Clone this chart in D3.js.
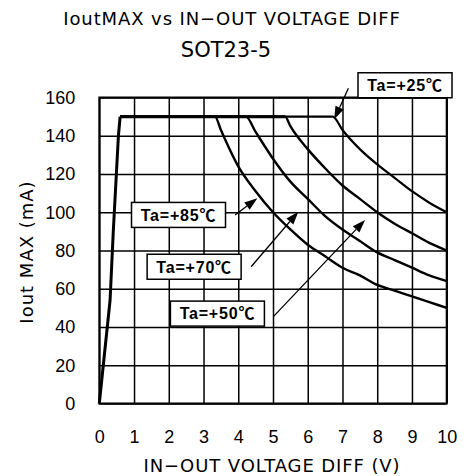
<!DOCTYPE html>
<html>
<head>
<meta charset="utf-8">
<script src="https://cdn.jsdelivr.net/npm/d3@7"></script>
<style>
  html, body { margin: 0; padding: 0; background: #fff; }
  svg { display: block; }
</style>
</head>
<body>
<svg id="chart" width="464" height="476"></svg>
<script>
// Rising start-up segment (shared by every temperature)
const riseV = [0, 0.31, 0.40, 0.55, 0.60];
const riseI = [0, 54, 89, 140, 150];

// Power-limited Iout MAX curves per ambient temperature (V, mA)
const v25 = [0.60, 5.35, 6.72, 7.0, 7.5, 8.0, 8.5, 9.0, 9.5, 10.0];
const i25 = [150, 150, 150, 143, 133, 125, 118, 111, 105, 100];
const v50 = [0.60, 5.35, 5.5, 6.0, 6.5, 7.0, 7.5, 8.0, 8.5, 9.0, 9.5, 10.0];
const i50 = [150, 150, 145, 133, 123, 114, 107, 100, 94, 89, 84, 80];
const v70 = [0.60, 4.22, 4.5, 5.0, 5.5, 6.0, 6.5, 7.0, 7.5, 8.0, 8.5, 9.0, 9.5, 10.0];
const i70 = [150, 150, 142, 128, 116, 107, 98, 91, 85, 79, 75, 71, 67, 64];
const v85 = [0.60, 3.33, 3.5, 4.0, 4.5, 5.0, 5.5, 6.0, 6.5, 7.0, 7.5, 8.0, 8.5, 9.0, 9.5, 10.0];
const i85 = [150, 150, 143, 124, 111, 100, 91, 83, 77, 71, 67, 62, 59, 56, 53, 50];

// Axis ticks
const xTicks = [0, 1, 2, 3, 4, 5, 6, 7, 8, 9, 10];
const yTicks = [0, 20, 40, 60, 80, 100, 120, 140, 160];

// Callout labels: label centre, arrow tail and arrow tip in data units
const calloutText = ["Ta=+25℃", "Ta=+85℃", "Ta=+70℃", "Ta=+50℃"];
const calloutBox  = [[8.80, 166.4], [2.28, 98.6], [2.73, 71.5], [3.40, 47.0]];
const calloutTail = [[7.17, 164.8], [3.91, 98.6], [4.37, 71.5], [5.01, 45.4]];
const calloutTip  = [[6.76, 148.5], [4.55, 107.3], [5.73, 100.3], [7.65, 96.0]];

const svg = d3.select("#chart");
const plotL = 99.3, plotR = 446.7, plotT = 97.5, plotB = 403.5;
const x = d3.scaleLinear().domain([0, 10]).range([plotL, plotR]);
const y = d3.scaleLinear().domain([0, 160]).range([plotB, plotT]);

const labelFont = "'DejaVu Sans', 'Noto Sans CJK JP', sans-serif";

// Titles
svg.append("text").attr("x", 232).attr("y", 25).attr("text-anchor", "middle")
  .attr("font-family", labelFont).attr("font-size", 18).attr("letter-spacing", 0.9)
  .attr("fill", "#000").text("IoutMAX vs IN\u2212OUT VOLTAGE DIFF");
svg.append("text").attr("x", 226).attr("y", 57).attr("text-anchor", "middle")
  .attr("font-family", labelFont).attr("font-size", 21)
  .attr("fill", "#000").text("SOT23-5");

// Grid + ticks
const tickFont = "'Liberation Sans', Arial, sans-serif";
const gx = svg.append("g").attr("transform", `translate(0,${plotB})`)
  .call(d3.axisBottom(x).tickValues(xTicks).tickFormat(d3.format("d"))
    .tickSizeInner(-(plotB - plotT)).tickSizeOuter(0).tickPadding(27));
const gy = svg.append("g").attr("transform", `translate(${plotL},0)`)
  .call(d3.axisLeft(y).tickValues(yTicks).tickFormat(d3.format("d"))
    .tickSizeInner(-(plotR - plotL)).tickSizeOuter(0).tickPadding(24));
[gx, gy].forEach(g => {
  g.select(".domain").remove();
  g.selectAll(".tick line").attr("stroke", "#000").attr("stroke-width", 1.5);
  g.selectAll(".tick text").attr("font-family", tickFont).attr("font-size", 18).attr("fill", "#000");
});

// Plot frame
svg.append("rect").attr("x", plotL).attr("y", plotT).attr("width", plotR - plotL).attr("height", plotB - plotT)
  .attr("fill", "none").attr("stroke", "#000").attr("stroke-width", 2);

// Axis titles
svg.append("text").attr("x", 272).attr("y", 472).attr("text-anchor", "middle")
  .attr("font-family", labelFont).attr("font-size", 18).attr("letter-spacing", 0.9)
  .attr("fill", "#000").text("IN\u2212OUT VOLTAGE DIFF (V)");
svg.append("text").attr("transform", "translate(33,252) rotate(-90)").attr("text-anchor", "middle")
  .attr("font-family", labelFont).attr("font-size", 18).attr("letter-spacing", 1)
  .attr("fill", "#000").text("Iout MAX (mA)");

// Curves
const line = d3.line().x(d => x(d[0])).y(d => y(d[1])).curve(d3.curveMonotoneX);
const zip = (vs, is) => vs.map((v, k) => [v, is[k]]);
const curves = [
  { pts: zip(v25, i25), w: 2.2 },
  { pts: zip(v50, i50), w: 2.4 },
  { pts: zip(v70, i70), w: 2.4 },
  { pts: zip(v85, i85), w: 2.4 },
];
svg.append("g").selectAll("path").data(curves).join("path")
  .attr("d", d => line(d.pts)).attr("fill", "none").attr("stroke", "#000")
  .attr("stroke-width", d => d.w).attr("stroke-linejoin", "round");

// Shared thick flat segment and start-up ramp
svg.append("path").attr("d", d3.line().x(d => x(d[0])).y(d => y(d[1]))(zip(riseV, riseI)))
  .attr("fill", "none").attr("stroke", "#000").attr("stroke-width", 3).attr("stroke-linejoin", "round");
svg.append("path").attr("d", d3.line().x(d => x(d[0])).y(d => y(d[1]))([[v25[0], i25[0]], [v50[1], i50[1]]]))
  .attr("fill", "none").attr("stroke", "#000").attr("stroke-width", 3);

// Callouts
const calloutFont = "'Liberation Sans', Arial, 'Noto Sans CJK JP', sans-serif";
calloutText.forEach((t, k) => {
  const [tx, ty] = [x(calloutTail[k][0]), y(calloutTail[k][1])];
  const [px, py] = [x(calloutTip[k][0]), y(calloutTip[k][1])];
  const ang = Math.atan2(py - ty, px - tx);
  const hl = 13, hw = 4.5;
  const bx = px - hl * Math.cos(ang), by = py - hl * Math.sin(ang);
  svg.append("line").attr("x1", tx).attr("y1", ty).attr("x2", bx).attr("y2", by)
    .attr("stroke", "#000").attr("stroke-width", 1.3);
  svg.append("path")
    .attr("d", `M${px},${py}L${bx - hw * Math.sin(ang)},${by + hw * Math.cos(ang)}L${bx + hw * Math.sin(ang)},${by - hw * Math.cos(ang)}Z`)
    .attr("fill", "#000");
  const cx = x(calloutBox[k][0]), cy = y(calloutBox[k][1]);
  svg.append("rect").attr("x", cx - 47).attr("y", cy - 12.5).attr("width", 94).attr("height", 25)
    .attr("fill", "#fff").attr("stroke", "#000").attr("stroke-width", 1.5);
  svg.append("text").attr("x", cx).attr("y", cy).attr("dy", "0.36em").attr("text-anchor", "middle")
    .attr("font-family", calloutFont).attr("font-weight", "bold").attr("font-size", 16)
    .attr("letter-spacing", 0.8).attr("fill", "#000").text(t);
});
</script>
</body>
</html>
